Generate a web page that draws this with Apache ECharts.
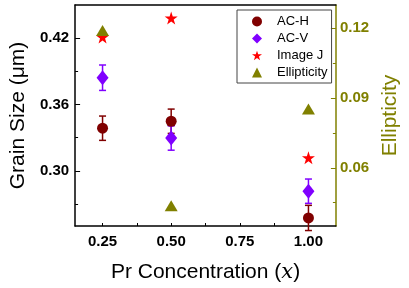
<!DOCTYPE html>
<html><head><meta charset="utf-8">
<script src="https://cdn.jsdelivr.net/npm/echarts@6/dist/echarts.min.js"></script>
<style>html,body{margin:0;padding:0;background:#fff}#c{width:409px;height:288px}</style>
</head><body><div id="c"></div>
<script>
// ---- data ----
const xValues = [0.25, 0.50, 1.00];
const acH = [0.3385, 0.3448, 0.2573];
const acHErr = [0.011, 0.011, 0.0114];
const acV = [0.3842, 0.3296, 0.2815];
const acVErr = [0.0115, 0.011, 0.011];
const imageJ = [0.421, 0.4382, 0.3117];
const ellipticity = [0.119, 0.0437, 0.0853];
const xTickLabels = [0.25, 0.50, 0.75, 1.00];
const xMinorTicks = [0.375, 0.625, 0.875];
const yLeftLabels = [0.30, 0.36, 0.42];
const yLeftMinor = [0.27, 0.33, 0.39];
const yRightLabels = [0.06, 0.09, 0.12];
const yRightMinor = [0.045, 0.075, 0.105];

const FONT = 'Arial, "Liberation Sans", sans-serif';
const OLIVE = '#808000';
const STAR = 'path://M50,0 L61.8,35.3 L98.9,35.3 L68.9,57.4 L80.3,93 L50,71.3 L19.7,93 L31.1,57.4 L1.1,35.3 L38.2,35.3 Z';

const pair = (xs, ys) => xs.map((x, i) => [x, ys[i]]);
const errData = (xs, ys, es) => xs.map((x, i) => [x, ys[i] - es[i], ys[i] + es[i]]);

function errRender(color) {
  return function (params, api) {
    const x = api.value(0);
    const lo = api.coord([x, api.value(1)]);
    const hi = api.coord([x, api.value(2)]);
    const w = 3.5;
    const st = { stroke: color, lineWidth: 1.5 };
    return {
      type: 'group',
      children: [
        { type: 'line', shape: { x1: lo[0], y1: lo[1], x2: hi[0], y2: hi[1] }, style: st },
        { type: 'line', shape: { x1: lo[0] - w, y1: lo[1], x2: lo[0] + w, y2: lo[1] }, style: st },
        { type: 'line', shape: { x1: hi[0] - w, y1: hi[1], x2: hi[0] + w, y2: hi[1] }, style: st }
      ]
    };
  };
}

const chart = echarts.init(document.getElementById('c'), null, { renderer: 'canvas' });
const xMin = 0.15, xMax = 1.10;
const lMin = 0.25, lMax = 0.45;
const rMin = 0.035, rMax = 0.13;

chart.setOption({
  animation: false,
  backgroundColor: '#fff',
  grid: { left: 65, right: 69, top: 5, bottom: 59 },
  legend: {
    data: ['AC-H', 'AC-V', 'Image J', 'Ellipticity'],
    orient: 'vertical',
    left: 237, top: 10,
    padding: [5, 4, 4, 15],
    itemWidth: 10, itemHeight: 10,
    itemGap: 4,
    borderColor: '#444', borderWidth: 1,
    textStyle: { fontFamily: FONT, fontSize: 13, color: '#000', padding: [0, 0, 0, 10] }
  },
  xAxis: [{
    type: 'value', min: xMin, max: xMax,
    name: '{a|Pr Concentration (}{b|x}{a|)}',
    nameLocation: 'middle', nameGap: 36,
    nameTextStyle: { rich: {
      a: { fontFamily: FONT, fontSize: 21, color: '#000' },
      b: { fontFamily: '"DejaVu Serif", "Liberation Serif", serif', fontStyle: 'italic', fontSize: 21, color: '#000' }
    } },
    axisLine: { onZero: false, lineStyle: { color: '#000', width: 1.5 } },
    axisTick: { inside: true, length: 3, customValues: xTickLabels.concat(xMinorTicks), lineStyle: { color: '#000' } },
    axisLabel: { customValues: xTickLabels, formatter: v => v.toFixed(2), fontFamily: FONT, fontWeight: 'bold', fontSize: 15, color: '#000', margin: 8 },
    splitLine: { show: false }
  }, {
    type: 'value', min: xMin, max: xMax, position: 'top',
    axisLine: { onZero: false, lineStyle: { color: '#000', width: 1.5 } },
    axisTick: { show: false }, axisLabel: { show: false }, splitLine: { show: false }
  }],
  yAxis: [{
    type: 'value', min: lMin, max: lMax, position: 'left',
    name: 'Grain Size (\u03bcm)', nameLocation: 'middle', nameGap: 40,
    nameTextStyle: { fontFamily: FONT, fontSize: 21, color: '#000' },
    axisLine: { show: true, onZero: false, lineStyle: { color: '#000', width: 1.5 } },
    axisTick: { inside: true, length: 5, customValues: yLeftLabels, lineStyle: { color: '#000' } },
    axisLabel: { customValues: yLeftLabels, formatter: v => v.toFixed(2), fontFamily: FONT, fontWeight: 'bold', fontSize: 15, color: '#000', margin: 6 },
    splitLine: { show: false }
  }, {
    type: 'value', min: rMin, max: rMax, position: 'right',
    name: 'Ellipticity', nameLocation: 'middle', nameGap: 44, nameRotate: 90,
    nameTextStyle: { fontFamily: FONT, fontSize: 21, color: OLIVE },
    axisLine: { show: true, onZero: false, lineStyle: { color: OLIVE, width: 1.5 } },
    axisTick: { inside: true, length: 5, customValues: yRightLabels, lineStyle: { color: OLIVE } },
    axisLabel: { customValues: yRightLabels, formatter: v => v.toFixed(2), fontFamily: FONT, fontWeight: 'bold', fontSize: 15, color: OLIVE, margin: 4 },
    splitLine: { show: false }
  }, {
    type: 'value', min: lMin, max: lMax, position: 'left',
    axisLine: { show: false },
    axisTick: { inside: true, length: 3, customValues: yLeftMinor, lineStyle: { color: '#000' } },
    axisLabel: { show: false }, splitLine: { show: false }
  }, {
    type: 'value', min: rMin, max: rMax, position: 'right',
    axisLine: { show: false },
    axisTick: { inside: true, length: 3, customValues: yRightMinor, lineStyle: { color: OLIVE } },
    axisLabel: { show: false }, splitLine: { show: false }
  }],
  series: [
    { type: 'custom', name: 'errH', yAxisIndex: 0, data: errData(xValues, acH, acHErr), renderItem: errRender('#800000'), encode: { x: 0, y: [1, 2] }, z: 2 },
    { type: 'custom', name: 'errV', yAxisIndex: 0, data: errData(xValues, acV, acVErr), renderItem: errRender('#8000ff'), encode: { x: 0, y: [1, 2] }, z: 2 },
    { type: 'scatter', name: 'AC-H', yAxisIndex: 0, data: pair(xValues, acH), symbol: 'circle', symbolSize: 11, itemStyle: { color: '#800000', opacity: 1 }, z: 3 },
    { type: 'scatter', name: 'AC-V', yAxisIndex: 0, data: pair(xValues, acV), symbol: 'diamond', symbolSize: [12, 15], itemStyle: { color: '#8000ff', opacity: 1 }, z: 3 },
    { type: 'scatter', name: 'Image J', yAxisIndex: 0, data: pair(xValues, imageJ), symbol: STAR, symbolSize: 13, itemStyle: { color: '#ff0000', opacity: 1 }, z: 3 },
    { type: 'scatter', name: 'Ellipticity', yAxisIndex: 1, data: pair(xValues, ellipticity), symbol: 'triangle', symbolSize: [13, 11], itemStyle: { color: OLIVE, opacity: 1 }, z: 4 }
  ]
});
</script></body></html>
